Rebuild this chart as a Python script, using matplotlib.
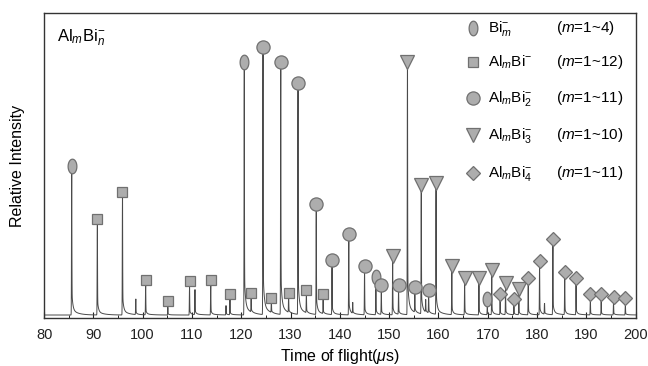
import numpy as np
import matplotlib
matplotlib.use('Agg')
import matplotlib.pyplot as plt
from matplotlib.path import Path

plt.rcParams['font.family'] = ['Liberation Sans', 'DejaVu Sans']
plt.rcParams['mathtext.fontset'] = 'custom'
plt.rcParams['mathtext.rm'] = 'Liberation Sans'
plt.rcParams['mathtext.it'] = 'Liberation Sans:italic'
plt.rcParams['path.simplify'] = False

# peak positions (time of flight, us) and peak tops (relative intensity)
bi_t = [85.6, 120.6, 147.3, 169.9]
bi_h = [0.468, 0.808, 0.103, 0.030]

albi_t = [90.8, 95.9, 100.6, 105.1, 109.5, 113.8, 117.7, 122.0, 126.1, 129.6, 133.2, 136.6]
albi_h = [0.293, 0.383, 0.093, 0.025, 0.088, 0.093, 0.048, 0.051, 0.035, 0.051, 0.060, 0.047]

albi2_t = [124.4, 128.0, 131.5, 135.2, 138.4, 141.8, 145.0, 148.4, 151.9, 155.2, 158.0]
albi2_h = [0.858, 0.808, 0.738, 0.342, 0.158, 0.243, 0.138, 0.076, 0.076, 0.071, 0.060]

albi3_t = [150.7, 153.7, 156.5, 159.5, 162.7, 165.3, 168.2, 170.8, 173.6, 176.3]
albi3_h = [0.171, 0.808, 0.404, 0.411, 0.138, 0.098, 0.100, 0.125, 0.082, 0.062]

albi4_t = [172.5, 175.3, 178.2, 180.5, 183.2, 185.6, 187.9, 190.8, 193.0, 195.5, 197.9]
albi4_h = [0.047, 0.030, 0.098, 0.156, 0.226, 0.120, 0.101, 0.047, 0.046, 0.038, 0.033]

# small unlabeled peaks
minor_t = [98.6, 110.6, 116.9, 142.6, 157.4, 181.5]
minor_h = [0.050, 0.080, 0.030, 0.035, 0.040, 0.035]

labels = [r'Bi$_{m}^{-}$', r'Al$_{m}$Bi$^{-}$', r'Al$_{m}$Bi$_{2}^{-}$',
          r'Al$_{m}$Bi$_{3}^{-}$', r'Al$_{m}$Bi$_{4}^{-}$']
ranges = [r'($m$=1~4)', r'($m$=1~12)', r'($m$=1~11)', r'($m$=1~10)', r'($m$=1~11)']

# oval marker for Bi_m
ang = np.linspace(0, 2 * np.pi, 60)
oval = Path(np.column_stack([0.6 * np.cos(ang), np.sin(ang)]), closed=True)

series = [
    (bi_t, bi_h, oval, 10.5),
    (albi_t, albi_h, 's', 7.5),
    (albi2_t, albi2_h, 'o', 9.5),
    (albi3_t, albi3_h, 'v', 9.5),
    (albi4_t, albi4_h, 'D', 6.8),
]

all_t = np.array(bi_t + albi_t + albi2_t + albi3_t + albi4_t + minor_t)
all_h = np.array(bi_h + albi_h + albi2_h + albi3_h + albi4_h + minor_h)

# build the trace from the peak list
t = np.sort(np.concatenate([np.linspace(80, 200, 6001), all_t]))
y = np.full_like(t, 0.010)
for t0, h in zip(all_t, all_h):
    d = t - t0
    y += h * np.exp(-(d / 0.05) ** 2)
    dp = np.clip(d, 0, None)
    y += np.where(d > 0, 0.15 * h * np.exp(-dp / 0.2) + 0.04 * h * np.exp(-dp / 1.2), 0)

fig = plt.figure(figsize=(6.48, 3.66), dpi=100)
ax = fig.add_axes([0.068, 0.131, 0.913, 0.833])
ax.plot(t, y, color='#4a4a4a', lw=0.7, solid_joinstyle='bevel')

fc = '#adadad'
ec = '#707070'
off = 0.032
for ts, hs, mk, ms in series:
    ax.plot(ts, np.array(hs) + off, ls='none', marker=mk, ms=ms,
            mfc=fc, mec=ec, mew=0.9, zorder=3)

ax.set_xlim(80, 200)
ax.set_ylim(0, 1)
ax.set_xticks(np.arange(80, 201, 10))
ax.set_xticks(np.arange(80, 201, 5), minor=True)
ax.tick_params(axis='x', direction='in', length=4, width=0.8, labelsize=10.5,
               pad=7, colors='#222222')
ax.tick_params(axis='x', which='minor', direction='in', length=2.5, width=0.6)
ax.set_yticks([])
for s in ax.spines.values():
    s.set_color('#333333')
    s.set_linewidth(1.0)

ax.set_xlabel(r'Time of flight($\mu$s)', fontsize=11.5, labelpad=4)
ax.set_ylabel('Relative Intensity', fontsize=11.5, labelpad=14)

ax.text(0.022, 0.918, r'Al$_{m}$Bi$_{n}^{-}$', transform=ax.transAxes,
        fontsize=12, va='center', ha='left',
        bbox=dict(facecolor='white', edgecolor='none', pad=2))

# legend drawn by hand
rows = [0.951, 0.839, 0.721, 0.600, 0.475]
for (ts, hs, mk, ms), lab, rng, yy in zip(series, labels, ranges, rows):
    ax.plot([0.725], [yy], transform=ax.transAxes, ls='none', marker=mk, ms=ms,
            mfc=fc, mec=ec, mew=0.9, clip_on=False)
    ax.text(0.750, yy, lab, transform=ax.transAxes, fontsize=11, va='center', ha='left')
    ax.text(0.866, yy, rng, transform=ax.transAxes, fontsize=11, va='center', ha='left')

fig.savefig('out.png', dpi=100)
